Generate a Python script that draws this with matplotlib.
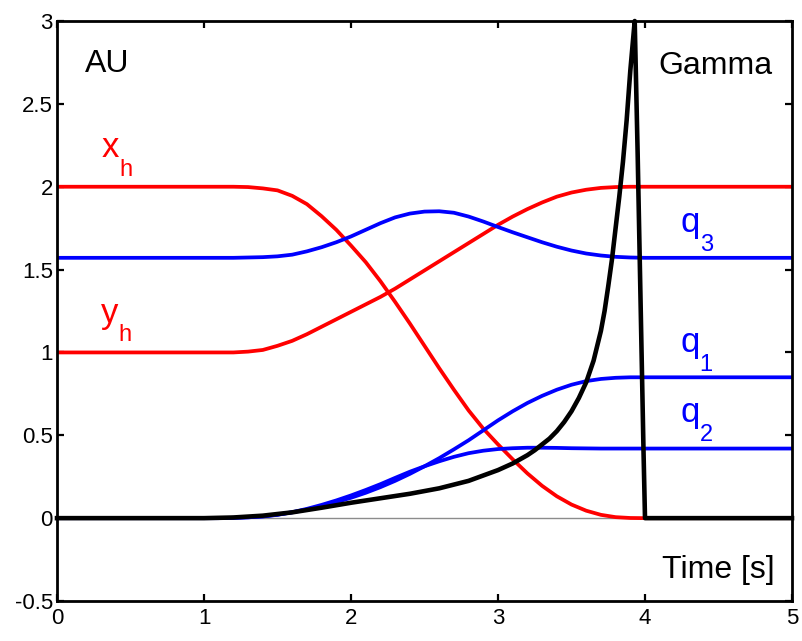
import matplotlib
matplotlib.use("Agg")
import matplotlib.pyplot as plt

plt.rcParams["font.family"] = ["Liberation Sans", "DejaVu Sans"]

# joint / hand trajectories, sampled every 0.1 s during the move
t = [0.0, 1.0, 1.1, 1.2, 1.3, 1.4, 1.5, 1.6, 1.7, 1.8, 1.9, 2.0, 2.1, 2.2, 2.3, 2.4,
     2.5, 2.6, 2.7, 2.8, 2.9, 3.0, 3.1, 3.2, 3.3, 3.4, 3.5, 3.6, 3.7, 3.8, 3.9,
     4.0, 5.0]
x_h = [2.0, 2.0, 2.0, 2.0, 1.998, 1.99, 1.978, 1.945, 1.895, 1.822, 1.74, 1.645,
       1.545, 1.43, 1.305, 1.175, 1.04, 0.905, 0.775, 0.65, 0.54, 0.445, 0.355,
       0.27, 0.195, 0.132, 0.082, 0.045, 0.02, 0.006, 0.001, 0.0, 0.0]
y_h = [1.0, 1.0, 1.0, 1.0, 1.005, 1.015, 1.04, 1.07, 1.11, 1.155, 1.20, 1.245,
       1.29, 1.335, 1.385, 1.44, 1.495, 1.55, 1.605, 1.66, 1.715, 1.77, 1.82,
       1.865, 1.905, 1.94, 1.965, 1.982, 1.993, 1.998, 2.0, 2.0, 2.0]
q1 = [0.0, 0.0, 0.0, 0.002, 0.005, 0.01, 0.02, 0.035, 0.052, 0.073, 0.097, 0.123,
      0.153, 0.187, 0.225, 0.267, 0.313, 0.362, 0.415, 0.47, 0.53, 0.59, 0.645,
      0.695, 0.738, 0.775, 0.805, 0.827, 0.84, 0.847, 0.85, 0.85, 0.85]
q2 = [0.0, 0.0, 0.0, 0.002, 0.005, 0.011, 0.021, 0.036, 0.056, 0.08, 0.107, 0.137,
      0.17, 0.205, 0.243, 0.28, 0.313, 0.343, 0.37, 0.392, 0.407, 0.417, 0.422,
      0.425, 0.425, 0.424, 0.422, 0.421, 0.42, 0.42, 0.42, 0.42, 0.42]
q3 = [1.571, 1.571, 1.571, 1.571, 1.573, 1.575, 1.58, 1.59, 1.61, 1.635, 1.665,
      1.70, 1.74, 1.78, 1.815, 1.838, 1.85, 1.852, 1.843, 1.82, 1.79, 1.757,
      1.725, 1.695, 1.665, 1.638, 1.615, 1.597, 1.585, 1.577, 1.573, 1.571, 1.571]

# gamma needs finer sampling around the peak
t_g = [0.0, 1.0, 1.2, 1.4, 1.6, 1.8, 2.0, 2.2, 2.4, 2.6, 2.8, 3.0, 3.1, 3.2, 3.25,
       3.3, 3.35, 3.4, 3.45, 3.5, 3.55, 3.6, 3.65, 3.7, 3.725, 3.75, 3.775, 3.8,
       3.825, 3.85, 3.875, 3.9, 3.915, 3.93, 3.95, 3.97, 3.99, 4.0, 5.0]
gamma = [0.0, 0.0, 0.004, 0.015, 0.035, 0.063, 0.093, 0.12, 0.147, 0.18, 0.225,
         0.29, 0.33, 0.38, 0.41, 0.445, 0.48, 0.525, 0.58, 0.645, 0.725, 0.82,
         0.95, 1.13, 1.25, 1.4, 1.56, 1.75, 1.94, 2.15, 2.4, 2.7, 2.85, 3.0,
         2.2, 1.3, 0.4, 0.0, 0.0]

fig = plt.figure(figsize=(8.03, 6.41), dpi=100)
ax = fig.add_axes([0.071, 0.0624, 0.9153, 0.9048])

ax.axhline(0, color="0.55", lw=1.0, zorder=1)
for ys, c in [(x_h, "red"), (y_h, "red"), (q1, "blue"), (q2, "blue"), (q3, "blue")]:
    ax.plot(t, ys, color=c, lw=2.7, zorder=2, solid_joinstyle="round")
ax.plot(t_g, gamma, color="black", lw=3.3, zorder=3, clip_on=False,
        solid_joinstyle="round")

ax.set_xlim(0, 5)
ax.set_ylim(-0.5, 3)
ax.set_xticks([0, 1, 2, 3, 4, 5])
ax.set_yticks([-0.5, 0, 0.5, 1, 1.5, 2, 2.5, 3])
ax.set_yticklabels(["-0.5", "0", "0.5", "1", "1.5", "2", "2.5", "3"])
ax.tick_params(direction="in", top=True, right=True, length=5, width=1.6,
               labelsize=16)
ax.tick_params(axis="x", pad=5)
ax.tick_params(axis="y", pad=3)
for s in ax.spines.values():
    s.set_linewidth(2.0)


def sub_label(x, y, main, sub, color):
    txt = ax.text(x, y, main, color=color, fontsize=25, va="baseline", ha="left")
    ax.annotate(sub, xy=(1, 0), xycoords=txt, xytext=(0, -8.5),
                textcoords="offset points", color=color, fontsize=17,
                va="baseline", ha="left")


sub_label(0.306, 2.18, "x", "h", "red")
sub_label(0.30, 1.18, "y", "h", "red")
sub_label(4.24, 1.726, "q", "3", "blue")
sub_label(4.24, 1.0, "q", "1", "blue")
sub_label(4.24, 0.58, "q", "2", "blue")

ax.text(0.19, 2.69, "AU", fontsize=23, va="baseline", ha="left")
ax.text(4.865, 2.68, "Gamma", fontsize=23, va="baseline", ha="right")
ax.text(4.885, -0.362, "Time [s]", fontsize=23, va="baseline", ha="right")

fig.savefig("out.png", dpi=100)
